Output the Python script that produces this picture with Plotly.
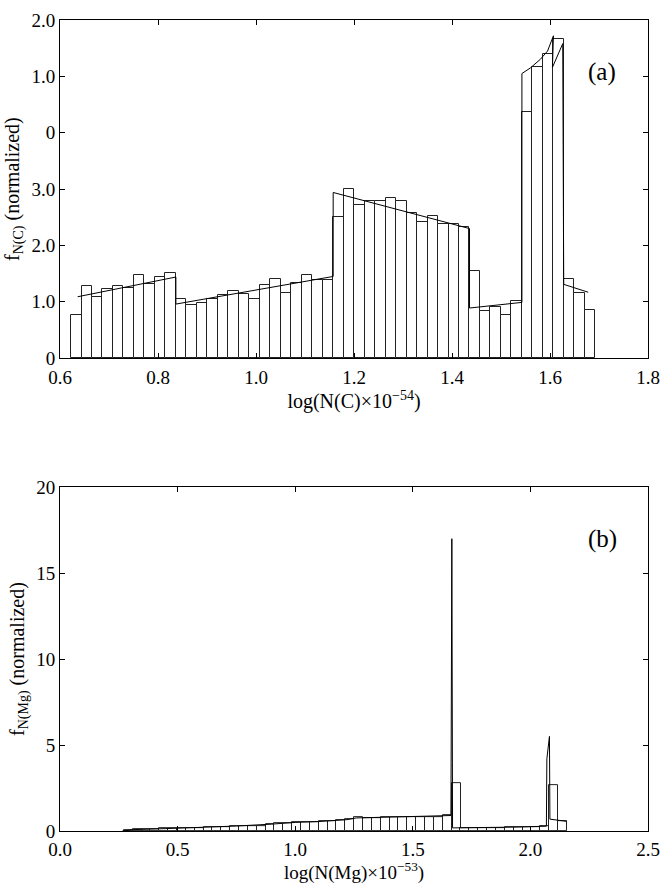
import plotly.graph_objects as go

# panel (a): N(C) histogram, 50 bins
c_bins = [0.6332, 0.6546, 0.6760, 0.6974, 0.7188, 0.7402, 0.7616, 0.7830, 0.8044, 0.8258,
          0.8472, 0.8686, 0.8900, 0.9114, 0.9328, 0.9542, 0.9756, 0.9970, 1.0184, 1.0398,
          1.0612, 1.0826, 1.1040, 1.1254, 1.1468, 1.1682, 1.1896, 1.2110, 1.2324, 1.2538,
          1.2752, 1.2966, 1.3180, 1.3394, 1.3608, 1.3822, 1.4036, 1.4250, 1.4464, 1.4678,
          1.4892, 1.5106, 1.5320, 1.5534, 1.5748, 1.5962, 1.6176, 1.6390, 1.6604, 1.6818]
c_counts = [0.77, 1.28, 1.08, 1.22, 1.28, 1.24, 1.47, 1.31, 1.44, 1.52,
            1.05, 0.95, 0.98, 1.05, 1.13, 1.20, 1.14, 1.05, 1.30, 1.41,
            1.15, 1.34, 1.48, 1.39, 1.38, 2.50, 3.01, 2.71, 2.79, 2.78,
            2.84, 2.78, 2.58, 2.41, 2.53, 2.38, 2.38, 2.32, 1.54, 0.83,
            0.91, 0.76, 1.02, 4.37, 5.16, 5.39, 5.66, 1.41, 1.16, 0.86]
c_fit_x = [0.636, 0.8365, 0.8365, 1.1575, 1.1575, 1.4357, 1.4357, 1.5427, 1.5427,
           1.56, 1.58, 1.595, 1.607, 1.605, 1.626, 1.628, 1.678]
c_fit_y = [1.09, 1.44, 0.96, 1.45, 2.94, 2.30, 0.89, 0.99, 5.05,
           5.15, 5.30, 5.45, 5.72, 5.16, 5.58, 1.31, 1.17]
c_yticks = [0, 1, 2, 3, 4, 5, 6]
c_yticktext = ["0", "1.0", "2.0", "3.0", "0", "1.0", "2.0"]
c_xticks = [0.6, 0.8, 1.0, 1.2, 1.4, 1.6, 1.8]

# panel (b): N(Mg) histogram, 50 bins
mg_bins = [0.2901, 0.3278, 0.3655, 0.4031, 0.4408, 0.4785, 0.5161, 0.5538, 0.5915, 0.6292,
           0.6668, 0.7045, 0.7422, 0.7798, 0.8175, 0.8552, 0.8929, 0.9305, 0.9682, 1.0059,
           1.0435, 1.0812, 1.1189, 1.1566, 1.1942, 1.2319, 1.2696, 1.3072, 1.3449, 1.3826,
           1.4203, 1.4579, 1.4956, 1.5333, 1.5709, 1.6086, 1.6463, 1.6840, 1.7216, 1.7593,
           1.7970, 1.8346, 1.8723, 1.9100, 1.9477, 1.9853, 2.0230, 2.0607, 2.0983, 2.1360]
mg_counts = [0.04, 0.10, 0.10, 0.12, 0.14, 0.15, 0.16, 0.17, 0.19, 0.21,
             0.21, 0.25, 0.31, 0.29, 0.29, 0.31, 0.41, 0.43, 0.43, 0.52,
             0.53, 0.54, 0.56, 0.60, 0.64, 0.70, 0.81, 0.76, 0.76, 0.83,
             0.83, 0.81, 0.81, 0.83, 0.83, 0.83, 0.91, 2.77, 0.14, 0.14,
             0.17, 0.17, 0.17, 0.25, 0.25, 0.25, 0.23, 0.27, 2.67, 0.60]
mg_fit_x = [0.265, 0.31, 0.45, 0.60, 0.75, 0.90, 1.00, 1.10, 1.22, 1.26, 1.40, 1.55,
            1.662, 1.663, 1.666, 1.669, 1.80, 1.95, 2.068, 2.070, 2.081, 2.083, 2.155]
mg_fit_y = [0.0, 0.08, 0.14, 0.21, 0.29, 0.40, 0.50, 0.55, 0.66, 0.76, 0.80, 0.83,
            0.90, 4.0, 17.0, 0.18, 0.19, 0.23, 0.28, 4.2, 5.5, 0.69, 0.56]
mg_yticks = [0, 5, 10, 15, 20]
mg_xticks = [0.0, 0.5, 1.0, 1.5, 2.0, 2.5]

font = "Liberation Serif"
bar_line = dict(color="#222222", width=1)

fig = go.Figure()
fig.add_trace(go.Bar(x=c_bins, y=c_counts, width=0.0214, marker_color="white",
                     marker_line=bar_line, xaxis="x", yaxis="y"))
fig.add_trace(go.Scatter(x=c_fit_x, y=c_fit_y, mode="lines", line=dict(color="black", width=1),
                         xaxis="x", yaxis="y"))
fig.add_trace(go.Bar(x=mg_bins, y=mg_counts, width=0.03767, marker_color="white",
                     marker_line=bar_line, xaxis="x2", yaxis="y2"))
fig.add_trace(go.Scatter(x=mg_fit_x, y=mg_fit_y, mode="lines", line=dict(color="black", width=1),
                         xaxis="x2", yaxis="y2"))

axis_style = dict(showline=True, linecolor="black", linewidth=1, mirror="ticks",
                  ticks="inside", ticklen=5, tickcolor="black", showgrid=False,
                  zeroline=False, automargin=False,
                  tickfont=dict(family=font, size=19, color="black"))

fig.update_layout(
    width=663, height=884,
    margin=dict(l=60, r=15, t=20, b=53),
    paper_bgcolor="white", plot_bgcolor="white",
    showlegend=False, bargap=0,
    font=dict(family=font, size=19, color="black"),
    xaxis=dict(axis_style, domain=[0, 1], anchor="y", range=[0.6, 1.8],
               tickvals=c_xticks, tickformat=".1f", ticklabelstandoff=2,
               title=dict(text="log(N(C)×10<sup>−54</sup>)", standoff=4,
                          font=dict(family=font, size=20))),
    yaxis=dict(axis_style, domain=[0.583, 1], anchor="x", range=[0, 6],
               tickvals=c_yticks, ticktext=c_yticktext,
               title=dict(text="f<sub>N(C)</sub> (normalized)", standoff=6,
                          font=dict(family=font, size=20))),
    xaxis2=dict(axis_style, domain=[0, 1], anchor="y2", range=[0, 2.5],
                tickvals=mg_xticks, tickformat=".1f", ticklabelstandoff=1,
                title=dict(text="log(N(Mg)×10<sup>−53</sup>)", standoff=5,
                           font=dict(family=font, size=19))),
    yaxis2=dict(axis_style, domain=[0, 0.424], anchor="x2", range=[0, 20],
                tickvals=mg_yticks,
                title=dict(text="f<sub>N(Mg)</sub> (normalized)", standoff=6,
                           font=dict(family=font, size=20))),
    annotations=[
        dict(text="(a)", x=0.922, y=0.846, xref="x domain", yref="y domain",
             xanchor="center", yanchor="middle",
             showarrow=False, font=dict(family=font, size=25)),
        dict(text="(b)", x=0.922, y=0.849, xref="x2 domain", yref="y2 domain",
             xanchor="center", yanchor="middle",
             showarrow=False, font=dict(family=font, size=25)),
    ],
)

# drop the page margin so the figure fills the window exactly
fig.write_html("out.html", config={"displayModeBar": False},
               post_script="document.body.style.margin='0';document.body.style.overflow='hidden';")
